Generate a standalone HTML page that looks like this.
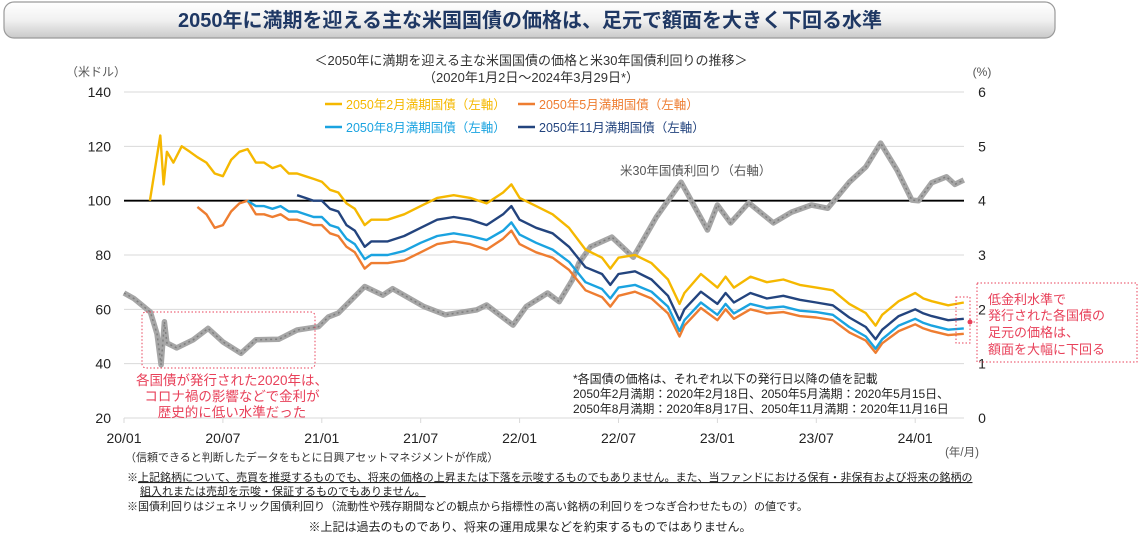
<!DOCTYPE html>
<html lang="ja"><head><meta charset="utf-8">
<style>
body{margin:0;width:1141px;height:543px;background:#fff;overflow:hidden;font-family:"Liberation Sans","Noto Sans CJK JP",sans-serif;}
svg text{font-family:"Liberation Sans","Noto Sans CJK JP",sans-serif;}
</style></head>
<body>
<svg id="chart" width="1141" height="543" viewBox="0 0 1141 543" xmlns="http://www.w3.org/2000/svg">
<defs>
<linearGradient id="bannerG" x1="0" y1="0" x2="0" y2="1">
<stop offset="0" stop-color="#ffffff"/><stop offset="0.5" stop-color="#f1f1f1"/><stop offset="1" stop-color="#c9c9c9"/>
</linearGradient>
</defs>
<g>
<rect x="4" y="2" width="1051" height="36" rx="10" fill="url(#bannerG)" stroke="#9a9a9a" stroke-width="1.2"/>
<text x="530" y="27" text-anchor="middle" font-size="20" fill="#1f3864" font-weight="bold">2050年に満期を迎える主な米国国債の価格は、足元で額面を大きく下回る水準</text>
</g>
<text x="531" y="65" text-anchor="middle" font-size="13" fill="#333">＜2050年に満期を迎える主な米国国債の価格と米30年国債利回りの推移＞</text>
<text x="531" y="82" text-anchor="middle" font-size="13" fill="#333">（2020年1月2日～2024年3月29日*）</text>
<text x="96" y="76" text-anchor="middle" font-size="12" fill="#555">（米ドル）</text>
<text x="982" y="76" text-anchor="middle" font-size="12" fill="#555">(%)</text>
<g id="grid"></g>
<g id="axes"></g>
<g id="series"></g>
<g>
<g><line x1="325" y1="104" x2="342" y2="104" stroke="#f5b800" stroke-width="2.5"/><text x="346" y="109" font-size="12.5" fill="#f5b800">2050年2月満期国債（左軸）</text></g>
<g><line x1="518" y1="104" x2="535" y2="104" stroke="#ee7d31" stroke-width="2.5"/><text x="539" y="109" font-size="12.5" fill="#ee7d31">2050年5月満期国債（左軸）</text></g>
<g><line x1="325" y1="127" x2="342" y2="127" stroke="#1aa3e0" stroke-width="2.5"/><text x="346" y="132" font-size="12.5" fill="#1aa3e0">2050年8月満期国債（左軸）</text></g>
<g><line x1="518" y1="127" x2="535" y2="127" stroke="#23447e" stroke-width="2.5"/><text x="539" y="132" font-size="12.5" fill="#23447e">2050年11月満期国債（左軸）</text></g>
</g>
<text x="620" y="175" font-size="12.5" fill="#555">米30年国債利回り（右軸）</text>
<g>
<rect x="142" y="312" width="173" height="56" rx="4" fill="none" stroke="#e8415a" stroke-width="1" stroke-dasharray="1.5,2"/>
<text x="232" y="385" text-anchor="middle" font-size="13.5" fill="#e8415a">各国債が発行された2020年は、</text>
<text x="232" y="401" text-anchor="middle" font-size="13.5" fill="#e8415a">コロナ禍の影響などで金利が</text>
<text x="232" y="417" text-anchor="middle" font-size="13.5" fill="#e8415a">歴史的に低い水準だった</text>
</g>
<g>
<rect x="956" y="297" width="14" height="46" fill="none" stroke="#e8415a" stroke-width="1" stroke-dasharray="1.5,2"/>
<circle cx="970" cy="322" r="2.5" fill="#e8415a"/>
<line x1="970" y1="322" x2="977" y2="322" stroke="#e8415a" stroke-dasharray="1.5,2"/>
<rect x="977" y="283" width="160" height="79" fill="none" stroke="#e8415a" stroke-width="1" stroke-dasharray="1.5,2"/>
<text x="988" y="304" font-size="13" fill="#e8415a">低金利水準で</text>
<text x="988" y="320" font-size="13" fill="#e8415a">発行された各国債の</text>
<text x="988" y="337" font-size="13" fill="#e8415a">足元の価格は、</text>
<text x="988" y="354" font-size="13" fill="#e8415a">額面を大幅に下回る</text>
</g>
<g font-size="12" fill="#222">
<text x="573" y="383">*各国債の価格は、それぞれ以下の発行日以降の値を記載</text>
<text x="573" y="398">2050年2月満期：2020年2月18日、2050年5月満期：2020年5月15日、</text>
<text x="573" y="413">2050年8月満期：2020年8月17日、2050年11月満期：2020年11月16日</text>
</g>
<text x="962" y="456" text-anchor="middle" font-size="11.5" fill="#555">(年/月)</text>
<text x="125" y="461" font-size="11" fill="#333">（信頼できると判断したデータをもとに日興アセットマネジメントが作成）</text>
<g font-size="11" fill="#222">
<text x="127" y="481">※<tspan text-decoration="underline">上記銘柄について、売買を推奨するものでも、将来の価格の上昇または下落を示唆するものでもありません。また、当ファンドにおける保有・非保有および将来の銘柄の</tspan></text>
<text x="140" y="495" text-decoration="underline">組入れまたは売却を示唆・保証するものでもありません。</text>
<text x="127" y="510">※国債利回りはジェネリック国債利回り（流動性や残存期間などの観点から指標性の高い銘柄の利回りをつなぎ合わせたもの）の値です。</text>
<text x="530" y="531" text-anchor="middle" font-size="12">※上記は過去のものであり、将来の運用成果などを約束するものではありません。</text>
</g>
</svg>
<script>
const priceTicks=[20,40,60,80,100,120,140];
const yieldTicks=[0,1,2,3,4,5,6];
const xTickLabels=["20/01","20/07","21/01","21/07","22/01","22/07","23/01","23/07","24/01"];
const xTickMonths=[0,6,12,18,24,30,36,42,48];
const priceDates=[1.57,2.2,2.4,2.6,3,3.5,4,4.45,5,5.5,6,6.5,7,7.5,8,8.5,9,9.5,10,10.5,11,11.5,12,12.5,13,13.5,14,14.6,15,16,17,18,19,20,21,22,23,23.5,24,25,26,27,28,29,29.5,30,31,32,33,33.7,34,35,36,36.5,37,38,39,40,41,42,43,44,45,45.6,46,47,48,48.5,49,50,50.95];
const febPrices=[100,124,106,118,114,120,118,116,114,110,109,115,118,119,114,114,112,113,110,110,109,108,107,104,103,99,97,91,93,93,95,98,101,102,101,99,103,106,101,98,95,90,82,79,75,79,80,77,71,62,66,73,68,72,68,72,70,71,69,68,67,62,58.6,54,58,63,66,64,63,61.5,62.5];
const mayPrices=[null,null,null,null,null,null,null,97.7,95,90,91,96,99,100,95,95,94,95,93,93,92,91,91,88,87,83,81,75,77,77,78,81,84,85,84,82,86,89,84,81,79,74.5,67,64.5,61,65,66.5,64,58.5,50,54,60.5,56,60,56.5,60,58.5,59,57.5,57,56,51.5,48.5,44,47.5,52,54.5,53,52,50.5,51];
const augPrices=[null,null,null,null,null,null,null,null,null,null,null,null,null,100,98,98,97,98,96,96,95,94,94,91,90,86,84,78.5,80,80,81.5,84.5,87,88,87,85.5,89,92,87.5,84.5,82,77.5,70,67.5,64,68,69,66.5,61,52,56,62.5,58,62,58.5,62,60.5,61,59.5,59,58,53.5,50,45.5,49,54,56.5,55,54,52.5,53];
const novPrices=[null,null,null,null,null,null,null,null,null,null,null,null,null,null,null,null,null,null,null,102,101,100,100,97,96,91,89,83,85,85,87,90,93,94,93,91,95,98,93,90,88,83,75.5,73,69,73,74,71,65,56,60,66.5,62,66,62.5,66,64,65,63.5,62.5,61.5,57,53.5,49,52.5,57.5,60,58.5,57.5,56,56.5];
const yieldDates=[0,0.6,1.2,1.6,2.0,2.25,2.45,2.6,3.2,4.2,5.1,6,7.1,8,9.4,10.5,11.8,12.4,13,14.6,15.7,16.3,18.2,19.5,21.4,22,23.6,24.4,25.7,26.4,27.2,27.6,28.3,29.6,30.9,32.3,33.8,35.4,36,36.8,37.9,39.4,40.5,41.7,42.7,44,45,45.9,46.9,47.8,48.2,49,49.9,50.4,50.95];
const yieldValues=[2.3,2.2,2.05,1.95,1.55,0.98,1.77,1.38,1.29,1.44,1.65,1.4,1.19,1.44,1.45,1.62,1.68,1.86,1.93,2.42,2.26,2.38,2.05,1.9,1.99,2.08,1.71,2.05,2.3,2.14,2.54,2.85,3.15,3.33,2.96,3.7,4.34,3.46,3.92,3.59,3.96,3.59,3.79,3.92,3.86,4.34,4.62,5.06,4.56,4.01,4.0,4.33,4.44,4.3,4.38];

const X0=124,X1=964,Ytop=92,Ybot=418;
function xScale(m){return X0+m*(98.9/6);}
function yLeft(v){return Ybot-(v-20)/120*(Ybot-Ytop);}
function yRight(v){return Ybot-v/6*(Ybot-Ytop);}
const NS="http://www.w3.org/2000/svg";
function mk(tag,attrs,parent){const e=document.createElementNS(NS,tag);for(const k in attrs)e.setAttribute(k,attrs[k]);parent.appendChild(e);return e;}
const grid=document.getElementById('grid'),axes=document.getElementById('axes'),series=document.getElementById('series');
priceTicks.forEach((v,i)=>{
  const y=yLeft(v);
  const gl=mk('line',{x1:X0,x2:X1,y1:y,y2:y,stroke:'#d9d9d9','stroke-width':1},grid);
  
  
  const t=mk('text',{x:111,y:y+5,'text-anchor':'end','font-size':14,fill:'#222'},axes);
  t.textContent=v;
  
  
});
yieldTicks.forEach(v=>{
  const t=mk('text',{x:982,y:yRight(v)+5,'text-anchor':'middle','font-size':14,fill:'#222'},axes);
  t.textContent=v;
  
  
});
xTickMonths.forEach((m,i)=>{
  const x=xScale(m);
  const tk=mk('line',{x1:x,x2:x,y1:Ybot,y2:Ybot+5,stroke:'#d9d9d9'},axes);
  
  
  const t=mk('text',{x:x,y:443,'text-anchor':'middle','font-size':14,fill:'#222'},axes);
  t.textContent=xTickLabels[i];
  
  
});
const par=mk('line',{x1:X0,x2:X1,y1:yLeft(100),y2:yLeft(100),stroke:'#000','stroke-width':1.8},grid);



function pathFrom(dates,vals,ys){
  let d='',pen=false;
  for(let i=0;i<dates.length;i++){
    const v=vals[i];
    if(v===null||v===undefined){pen=false;continue;}
    d+=(pen?'L':'M')+xScale(dates[i]).toFixed(1)+','+ys(v).toFixed(1);pen=true;
  }
  return d;
}
const yd=pathFrom(yieldDates,yieldValues,yRight);
const yl=mk('path',{d:yd,fill:'none',stroke:'#a6a6a6','stroke-width':5.5,'stroke-linejoin':'round'},series);


const yl2=mk('path',{d:yd,fill:'none',stroke:'#7f7f7f','stroke-width':1.5,'stroke-dasharray':'2,3'},series);


const defs=[[mayPrices,'#ee7d31','may-2050-line'],[augPrices,'#1aa3e0','aug-2050-line'],[novPrices,'#23447e','nov-2050-line'],[febPrices,'#f5b800','feb-2050-line']];
defs.forEach(s=>{
  const p=mk('path',{d:pathFrom(priceDates,s[0],yLeft),fill:'none',stroke:s[1],'stroke-width':2.4,'stroke-linejoin':'round'},series);
  
  
});
</script>
</body></html>
